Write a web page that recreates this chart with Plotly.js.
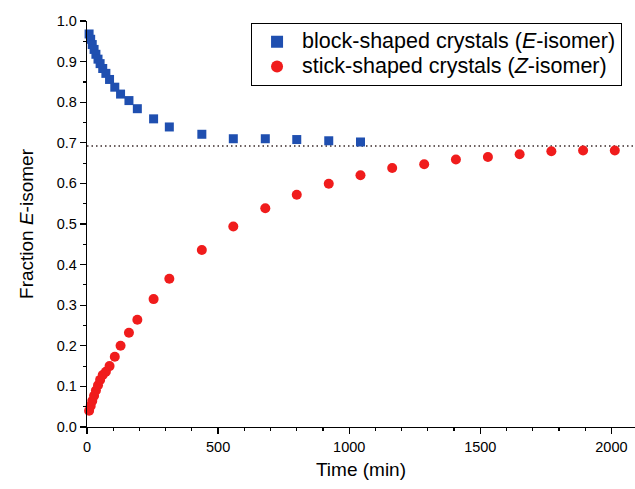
<!DOCTYPE html>
<html>
<head>
<meta charset="utf-8">
<script src="https://cdn.plot.ly/plotly-3.0.1.min.js"></script>
<style>html,body{margin:0;padding:0;background:#fff;}#chart{width:635px;height:489px;}</style>
</head>
<body>
<div id="chart"></div>
<script>
// Time points (min)
const timeBlock = [8, 14, 20, 27, 34, 42, 50, 60, 72, 86, 106, 128, 160, 192, 254, 314, 438, 558, 680, 800, 922, 1043];
const fracBlock = [0.968, 0.955, 0.942, 0.930, 0.918, 0.906, 0.895, 0.883, 0.871, 0.856, 0.837, 0.820, 0.804, 0.784, 0.759, 0.739, 0.721, 0.710, 0.710, 0.708, 0.705, 0.702];

const timeStick = [8, 14, 20, 27, 34, 42, 50, 60, 72, 86, 106, 128, 160, 192, 254, 314, 438, 558, 680, 800, 922, 1043, 1164, 1286, 1407, 1529, 1650, 1771, 1892, 2013];
const fracStick = [0.040, 0.052, 0.064, 0.077, 0.090, 0.103, 0.116, 0.128, 0.136, 0.150, 0.173, 0.200, 0.232, 0.264, 0.315, 0.365, 0.436, 0.494, 0.539, 0.572, 0.599, 0.620, 0.638, 0.647, 0.659, 0.665, 0.672, 0.679, 0.681, 0.681];

const equilibrium = 0.692;
const xTickVals = [0, 500, 1000, 1500, 2000];
const yTickVals = [0.0, 0.1, 0.2, 0.3, 0.4, 0.5, 0.6, 0.7, 0.8, 0.9, 1.0];
const seriesNames = ['block-shaped crystals (<i>E</i>-isomer)', 'stick-shaped crystals (<i>Z</i>-isomer)'];

const FONT = 'Liberation Sans, Arial, sans-serif';
const big = s => '<span style="font-size:21.5px">' + s + '</span>';

const traces = [
  {
    x: timeBlock, y: fracBlock, type: 'scatter', mode: 'markers',
    name: big(seriesNames[0]),
    marker: {symbol: 'square', size: 9, color: '#1f4fb0'},
    cliponaxis: false
  },
  {
    x: timeStick, y: fracStick, type: 'scatter', mode: 'markers',
    name: big(seriesNames[1]),
    marker: {symbol: 'circle', size: 10, color: '#f01c1c'},
    cliponaxis: false
  }
];

const layout = {
  width: 635, height: 489,
  margin: {l: 87, r: 0, t: 21, b: 62, pad: 0},
  paper_bgcolor: '#fff', plot_bgcolor: '#fff',
  font: {family: FONT, color: '#000', size: 14.5},
  showlegend: true,
  legend: {
    x: 0.299, y: 0.995, xanchor: 'left', yanchor: 'top',
    bordercolor: '#000', borderwidth: 1.2, bgcolor: '#fff',
    font: {family: FONT, size: 16.8, color: '#000'},
    itemsizing: 'constant', itemwidth: 40, tracegroupgap: 0
  },
  xaxis: {
    range: [0, 2090], showgrid: false, zeroline: false,
    showline: true, linecolor: '#000', linewidth: 1.3,
    ticks: 'outside', ticklen: 6, tickwidth: 1.3, tickcolor: '#000',
    tickvals: xTickVals, ticktext: xTickVals.map(String),
    minor: {dtick: 100, ticks: 'outside', ticklen: 3, tickwidth: 1.2, tickcolor: '#000', showgrid: false},
    tickfont: {size: 14.5},
    title: {text: 'Time (min)', font: {size: 19}, standoff: 9}
  },
  yaxis: {
    range: [0, 1.0], showgrid: false, zeroline: false,
    showline: true, linecolor: '#000', linewidth: 1.3,
    ticks: 'outside', ticklen: 6, tickwidth: 1.3, tickcolor: '#000',
    tickvals: yTickVals, ticktext: yTickVals.map(v => v.toFixed(1)),
    minor: {dtick: 0.05, ticks: 'outside', ticklen: 3, tickwidth: 1.2, tickcolor: '#000', showgrid: false},
    tickfont: {size: 14.5},
    title: {text: 'Fraction <i>E</i>-isomer', font: {size: 19}, standoff: 18}
  },
  shapes: [{
    type: 'line', xref: 'paper', x0: 0, x1: 1, yref: 'y', y0: equilibrium, y1: equilibrium,
    line: {color: '#3a2a2a', width: 1.5, dash: '1.5px,3px'}, layer: 'below'
  }]
};

Plotly.newPlot('chart', traces, layout, {displayModeBar: false, staticPlot: true});
</script>
</body>
</html>
